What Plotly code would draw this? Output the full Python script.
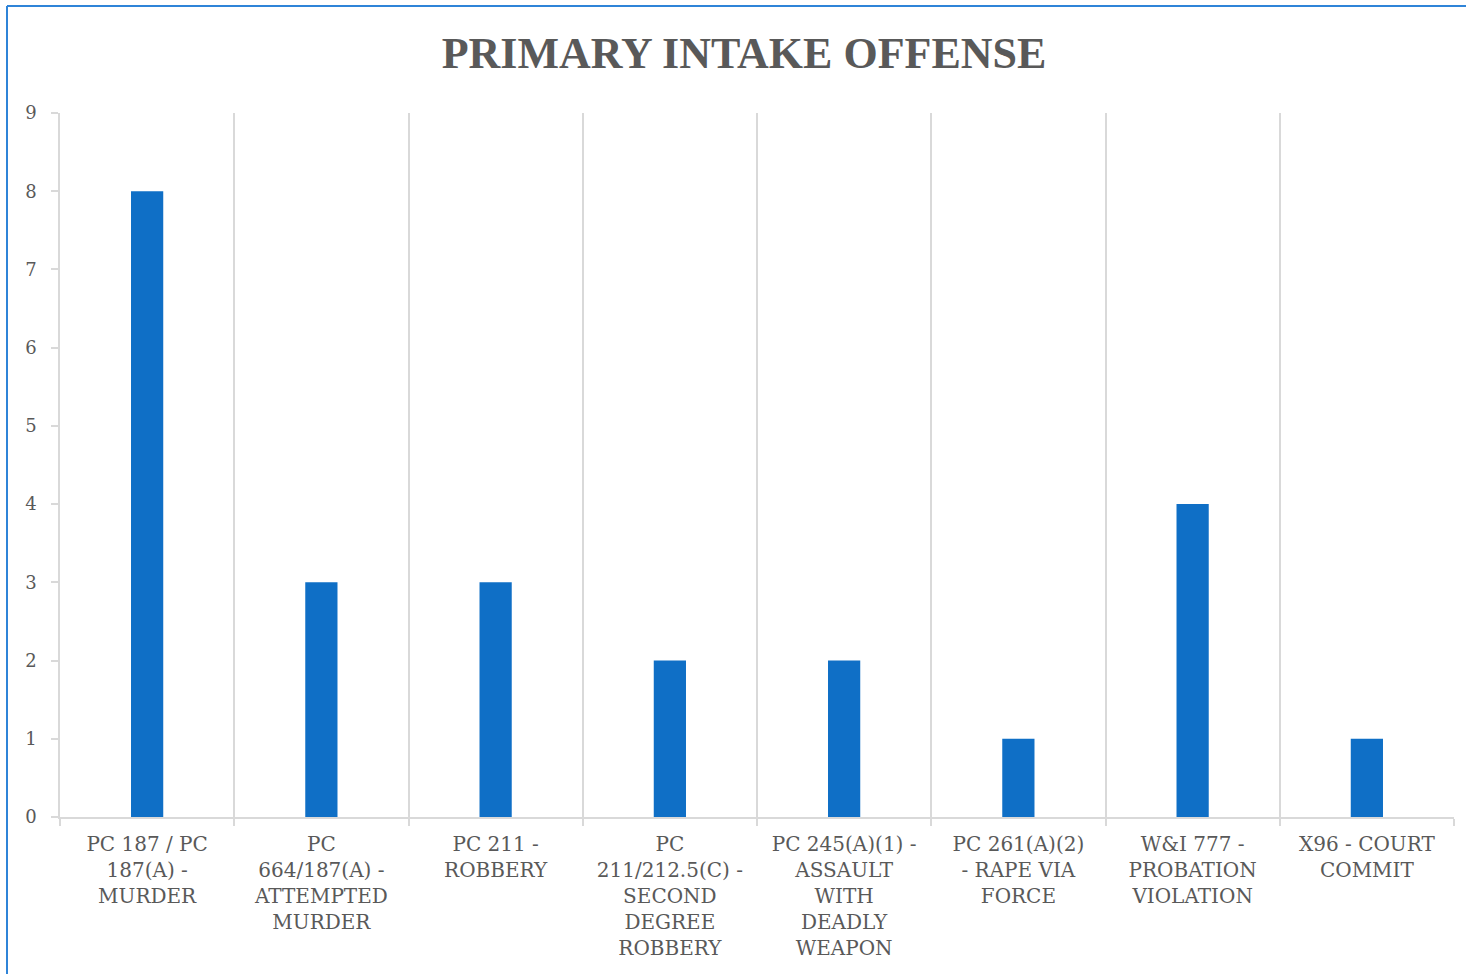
import plotly.graph_objects as go

categories = [
    "PC 187 / PC 187(A) - MURDER",
    "PC 664/187(A) - ATTEMPTED MURDER",
    "PC 211 - ROBBERY",
    "PC 211/212.5(C) - SECOND DEGREE ROBBERY",
    "PC 245(A)(1) - ASSAULT WITH DEADLY WEAPON",
    "PC 261(A)(2) - RAPE VIA FORCE",
    "W&I 777 - PROBATION VIOLATION",
    "X96 - COURT COMMIT",
]
tick_labels = [
    "PC 187 / PC<br>187(A) -<br>MURDER",
    "PC<br>664/187(A) -<br>ATTEMPTED<br>MURDER",
    "PC 211 -<br>ROBBERY",
    "PC<br>211/212.5(C) -<br>SECOND<br>DEGREE<br>ROBBERY",
    "PC 245(A)(1) -<br>ASSAULT<br>WITH<br>DEADLY<br>WEAPON",
    "PC 261(A)(2)<br>- RAPE VIA<br>FORCE",
    "W&I 777 -<br>PROBATION<br>VIOLATION",
    "X96 - COURT<br>COMMIT",
]
values = [8, 3, 3, 2, 2, 1, 4, 1]
y_ticks = [0, 1, 2, 3, 4, 5, 6, 7, 8, 9]

W, H = 1466, 974
ML, MR, MT, MB = 60, 12, 113, 157
pw, ph = W - ML - MR, H - MT - MB

TXT = "#595959"
GRID = "#d9d9d9"
FONT = "DejaVu Serif"

fig = go.Figure(go.Bar(
    x=categories, y=values,
    marker=dict(color="#0f6fc6", line=dict(width=0)),
    width=0.185,
))

# chart-area border (left and top edges visible in reference)
bx0 = (7 - ML) / pw
by1 = 1 + (MT - 6) / ph
by0 = -(MB + 20) / ph
bx1 = 1 + (MR + 20) / pw

fig.update_layout(
    width=W, height=H,
    margin=dict(l=ML, r=MR, t=MT, b=MB),
    paper_bgcolor="white", plot_bgcolor="white",
    showlegend=False,
    title=dict(
        text="<b>PRIMARY INTAKE OFFENSE</b>",
        x=744 / W, xref="container", xanchor="center",
        y=1 - 53 / H, yref="container", yanchor="middle",
        font=dict(family="Liberation Serif", size=44, color=TXT),
    ),
    shapes=[
        dict(type="line", xref="paper", yref="paper", x0=bx0, x1=bx0, y0=by0, y1=by1,
             line=dict(color="#2f84d8", width=2)),
        dict(type="line", xref="paper", yref="paper", x0=bx0, x1=bx1, y0=by1, y1=by1,
             line=dict(color="#2f84d8", width=2)),
    ],
)

fig.update_xaxes(
    type="category",
    tickmode="array", tickvals=categories, ticktext=tick_labels,
    tickson="boundaries",
    showgrid=True, gridcolor=GRID, gridwidth=1.5,
    showline=True, linecolor=GRID, linewidth=1.5,
    ticks="outside", ticklen=7, tickcolor=GRID, tickwidth=1.5,
    tickangle=0,
    tickfont=dict(family=FONT, size=20, color=TXT),
    ticklabelstandoff=8,
    range=[-0.5, 7.5],
)
fig.update_yaxes(
    range=[0, 9], tickvals=y_ticks,
    showgrid=False, zeroline=False,
    showline=True, linecolor=GRID, linewidth=1.5,
    ticks="outside", ticklen=7, tickcolor=GRID, tickwidth=1.5,
    tickfont=dict(family=FONT, size=18, color=TXT),
    ticklabelstandoff=11,
)

fig.write_html("out.html", config={"displayModeBar": False},
               post_script="document.body.style.margin='0';")
